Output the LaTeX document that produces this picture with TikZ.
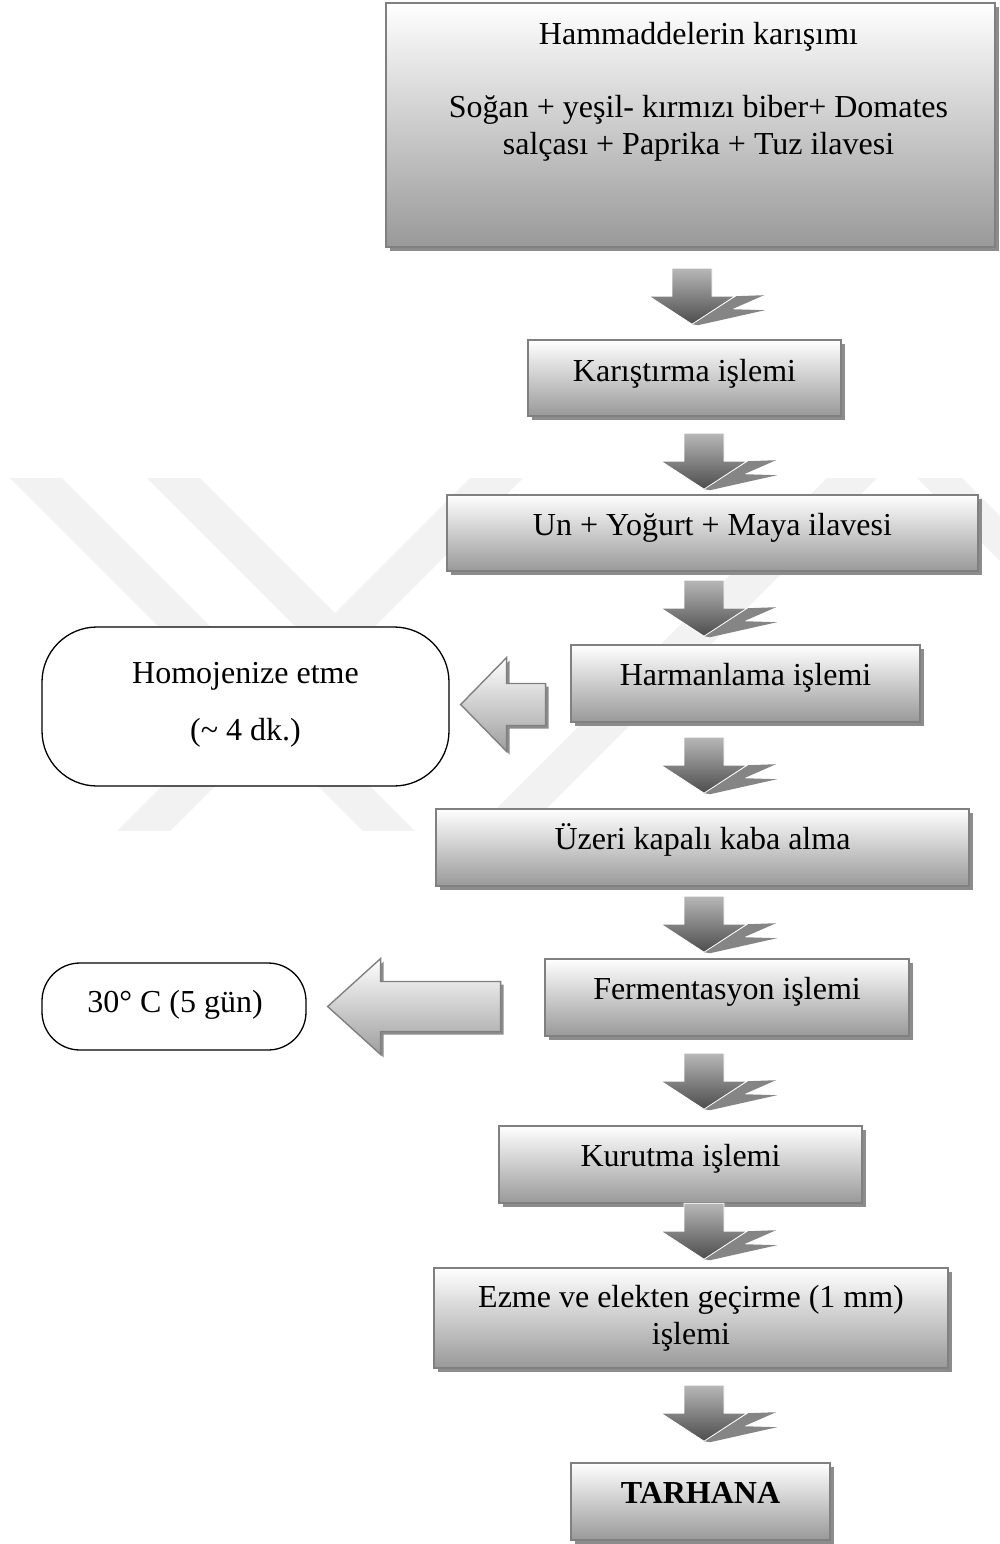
\documentclass[tikz,border=0pt]{standalone}
\usepackage{fontspec}
\setmainfont{Liberation Serif}
\usetikzlibrary{shadows,calc}

\definecolor{wmark}{gray}{0.95}
\tikzset{
  flowbox/.style={draw=black!50, line width=1.6pt, top color=white, bottom color=black!40,
    drop shadow={shadow xshift=4pt, shadow yshift=-4pt, fill=black!45, opacity=1},
    inner sep=0pt},
  roundbox/.style={draw=black, line width=1.3pt, fill=white, inner sep=0pt},
  lbl/.style={anchor=base, inner sep=0pt, font=\fontsize{32}{37}\selectfont},
  dshadow/.style={fill=black!48},
  dbody/.style={top color=black!28, bottom color=black!70, draw=white, line width=0.8pt},
  lshadow/.style={fill=black!45},
  lbody/.style={top color=white, bottom color=black!38, draw=black!50, line width=1.4pt},
}

% down block arrow: #1 name, #2 tip coordinate
\newcommand\downblock[2]{%
  \coordinate (#1) at #2;
  \begin{scope}[shift={(#1)}]
    \path[dshadow] (0,0) -- (44,-28) -- (72,-29) -- (40,-15) -- (73,-14) -- (6,1) -- cycle;
    \shade[dbody] (0,0) -- (-43,-28) -- (-20,-28) -- (-20,-56) -- (20,-56) -- (20,-28) -- (43,-28) -- cycle;
  \end{scope}}

% left block arrow: #1 name, #2 tip, #3 head length, #4 head half height, #5 total length, #6 shaft half height
\newcommand\leftblock[6]{%
  \coordinate (#1) at #2;
  \begin{scope}[shift={(#1)}]
    \path[lshadow, shift={(3,3)}] (0,0) -- (#3,-#4) -- (#3,-#6) -- (#5,-#6) -- (#5,#6) -- (#3,#6) -- (#3,#4) -- cycle;
    \shade[lbody] (0,0) -- (#3,-#4) -- (#3,-#6) -- (#5,-#6) -- (#5,#6) -- (#3,#6) -- (#3,#4) -- cycle;
  \end{scope}}

\begin{document}
\begin{tikzpicture}[x=1pt, y=-1pt]
\useasboundingbox (0,0) rectangle (1000,1544);
\fill[white] (0,0) rectangle (1000,1544);

% faint watermark
\begin{scope}
  \clip (0,478) rectangle (1000,830);
  \fill[wmark] (10,478) -- (62,478) -- (462,878) -- (410,878) -- cycle;
  \fill[wmark] (147,478) -- (200,478) -- (335,613) -- (308.5,639.5) -- cycle;
  \fill[wmark] (470,478) -- (523,478) -- (123,878) -- (70,878) -- cycle;
  \fill[wmark] (827,478) -- (877,478) -- (477,878) -- (427,878) -- cycle;
  \fill[wmark] (917,478) -- (962,478) -- (1362,878) -- (1317,878) -- cycle;
\end{scope}

% main boxes
\node[flowbox, minimum width=609pt, minimum height=244pt] (top) at (690.5,125) {};
\node[flowbox, minimum width=313pt, minimum height=76pt] (kar) at (684.5,378) {};
\node[flowbox, minimum width=531pt, minimum height=76pt] (un) at (712.5,533) {};
\node[flowbox, minimum width=349pt, minimum height=77pt] (harm) at (745.5,683.5) {};
\node[flowbox, minimum width=533pt, minimum height=77pt] (uzeri) at (702.5,847.5) {};
\node[flowbox, minimum width=364pt, minimum height=77pt] (ferm) at (727,997.5) {};
\node[flowbox, minimum width=363pt, minimum height=77pt] (kur) at (680.5,1164.5) {};
\node[flowbox, minimum width=514pt, minimum height=100pt] (ezme) at (691,1318) {};
\node[flowbox, minimum width=259pt, minimum height=77pt] (tar) at (700.5,1501.5) {};

% side boxes
\node[roundbox, rounded corners=55pt, minimum width=407pt, minimum height=159pt] (homo) at (245.5,706.5) {};
\node[roundbox, rounded corners=38pt, minimum width=264pt, minimum height=87pt] (temp) at (174,1006.5) {};

% texts
\node[lbl] (t0a) at ($(top.north)+(8,42)$) {Hammaddelerin karışımı};
\node[lbl] (t0b) at ($(top.north)+(8,115)$) {Soğan + yeşil- kırmızı biber+ Domates};
\node[lbl] (t0c) at ($(top.north)+(8,152)$) {salçası + Paprika + Tuz ilavesi};
\node[lbl] (t1) at ($(kar.center)+(0,3)$) {Karıştırma işlemi};
\node[lbl] (t2) at ($(un.center)+(0,2)$) {Un + Yoğurt + Maya ilavesi};
\node[lbl] (t3) at ($(harm.center)+(0,2)$) {Harmanlama işlemi};
\node[lbl] (t4) at ($(uzeri.center)+(0,2)$) {Üzeri kapalı kaba alma};
\node[lbl] (t5) at ($(ferm.center)+(0,2)$) {Fermentasyon işlemi};
\node[lbl] (t6) at ($(kur.center)+(0,2)$) {Kurutma işlemi};
\node[lbl] (t7a) at ($(ezme.north)+(0,40)$) {Ezme ve elekten geçirme (1 mm)};
\node[lbl] (t7b) at ($(ezme.north)+(0,77)$) {işlemi};
\node[lbl, font=\fontsize{32}{37}\selectfont\bfseries] (t8) at ($(tar.center)+(0,2)$) {TARHANA};
\node[lbl] (th1) at ($(homo.north)+(0,57)$) {Homojenize etme};
\node[lbl] (th2) at ($(homo.north)+(0,114)$) {(\textasciitilde{} 4 dk.)};
\node[lbl] (tt) at ($(temp.center)+(1,5.5)$) {30° C (5 gün)};

% down arrows between steps
\coordinate (axis) at (704,0);
\coordinate (axisA) at (692,0);
\downblock{a1}{($(axisA |- kar.north)+(0,-15)$)}
\downblock{a2}{($(axis |- un.north)+(0,-5)$)}
\downblock{a3}{($(axis |- harm.north)+(0,-8)$)}
\downblock{a4}{($(axis |- uzeri.north)+(0,-15)$)}
\downblock{a5}{($(axis |- ferm.north)+(0,-6)$)}
\downblock{a6}{($(axis |- kur.north)+(0,-16)$)}
\downblock{a7}{($(axis |- ezme.north)+(0,-8)$)}
\downblock{a8}{($(axis |- tar.north)+(0,-21)$)}

% side arrows
\leftblock{l1}{($(homo.east)+(11,-2)$)}{46}{47}{85}{21}
\leftblock{l2}{($(temp.east)+(21,0)$)}{53}{48}{173}{25}
\end{tikzpicture}
\end{document}
